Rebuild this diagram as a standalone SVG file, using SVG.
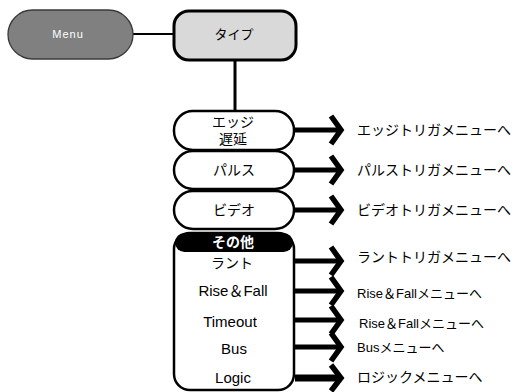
<svg xmlns="http://www.w3.org/2000/svg" width="520" height="392" viewBox="0 0 520 392">
<style>
text{font-family:"Liberation Sans","Noto Sans CJK JP",sans-serif;font-size:14px;fill:#000;text-anchor:middle}
.lbl{text-anchor:start}
.pill{fill:#fff;stroke:#000;stroke-width:2.5}
.ln{stroke:#000;stroke-width:5}
.ch{fill:none;stroke:#000;stroke-width:5.5;stroke-linejoin:miter;stroke-linecap:butt}
.lat{font-size:15px}
</style>
<g id="connectors">
<line x1="133" y1="34" x2="174" y2="34" stroke="#000" stroke-width="2"/>
<line x1="235" y1="60" x2="235" y2="111" stroke="#000" stroke-width="3"/>
<line class="ln" x1="295" y1="130" x2="340" y2="130"/><path class="ch" d="M331,116 L341,130 L331,144"/>
<line class="ln" x1="295" y1="170" x2="340" y2="170"/><path class="ch" d="M331,156 L341,170 L331,184"/>
<line class="ln" x1="295" y1="210" x2="340" y2="210"/><path class="ch" d="M331,196 L341,210 L331,224"/>
<line class="ln" x1="295" y1="261" x2="340" y2="261"/><path class="ch" d="M331,247 L341,261 L331,275"/>
<line class="ln" x1="295" y1="291" x2="340" y2="291"/><path class="ch" d="M331,277 L341,291 L331,305"/>
<line class="ln" x1="295" y1="320" x2="340" y2="320"/><path class="ch" d="M331,306 L341,320 L331,334"/>
<line class="ln" x1="295" y1="347" x2="340" y2="347"/><path class="ch" d="M331,333 L341,347 L331,361"/>
<line class="ln" x1="295" y1="378" x2="340" y2="378" style="stroke-width:7"/><path class="ch" d="M331,365 L341,378 L331,391"/>
</g>
<g id="menu">
<rect x="8" y="10" width="125" height="49" rx="24.5" fill="#808080" stroke="#3a3a3a" stroke-width="1.3"/>
<text x="68" y="38" style="fill:#fff;font-size:11px;letter-spacing:1px">Menu</text>
</g>
<g id="type">
<rect x="174" y="11" width="122" height="49" rx="15" fill="#d9d9d9" stroke="#000" stroke-width="3"/>
<text x="234" y="39" style="font-size:13px">タイプ</text>
</g>
<g id="edge">
<rect class="pill" x="174" y="111" width="120" height="39" rx="19"/>
<text x="233" y="127">エッジ</text>
<text x="233" y="144">遅延</text>
</g>
<g id="pulse">
<rect class="pill" x="174" y="151" width="120" height="38" rx="19"/>
<text x="234" y="175">パルス</text>
</g>
<g id="video">
<rect class="pill" x="174" y="191" width="120" height="38" rx="19"/>
<text x="234" y="215">ビデオ</text>
</g>
<g id="other">
<rect class="pill" x="174" y="233" width="120" height="157" rx="16"/>
<rect x="175" y="233" width="118" height="19" rx="9.5" fill="#000"/>
<text x="233" y="247" style="fill:#fff;font-weight:bold">その他</text>
<text x="232" y="268">ラント</text>
<text class="lat" x="233" y="296">Rise＆Fall</text>
<text class="lat" x="230" y="327">Timeout</text>
<text class="lat" x="234" y="354">Bus</text>
<text class="lat" x="233" y="383">Logic</text>
</g>
<g id="labels">
<text class="lbl" x="357" y="135">エッジトリガメニューへ</text>
<text class="lbl" x="357" y="175">パルストリガメニューへ</text>
<text class="lbl" x="357" y="215">ビデオトリガメニューへ</text>
<text class="lbl" x="357" y="262">ラントトリガメニューへ</text>
<text class="lbl" x="357" y="298" style="font-size:13px">Rise＆Fallメニューへ</text>
<text class="lbl" x="359" y="328" style="font-size:13px">Rise＆Fallメニューへ</text>
<text class="lbl" x="357" y="352" style="font-size:13px">Busメニューへ</text>
<text class="lbl" x="357" y="382">ロジックメニューへ</text>
</g>
</svg>
